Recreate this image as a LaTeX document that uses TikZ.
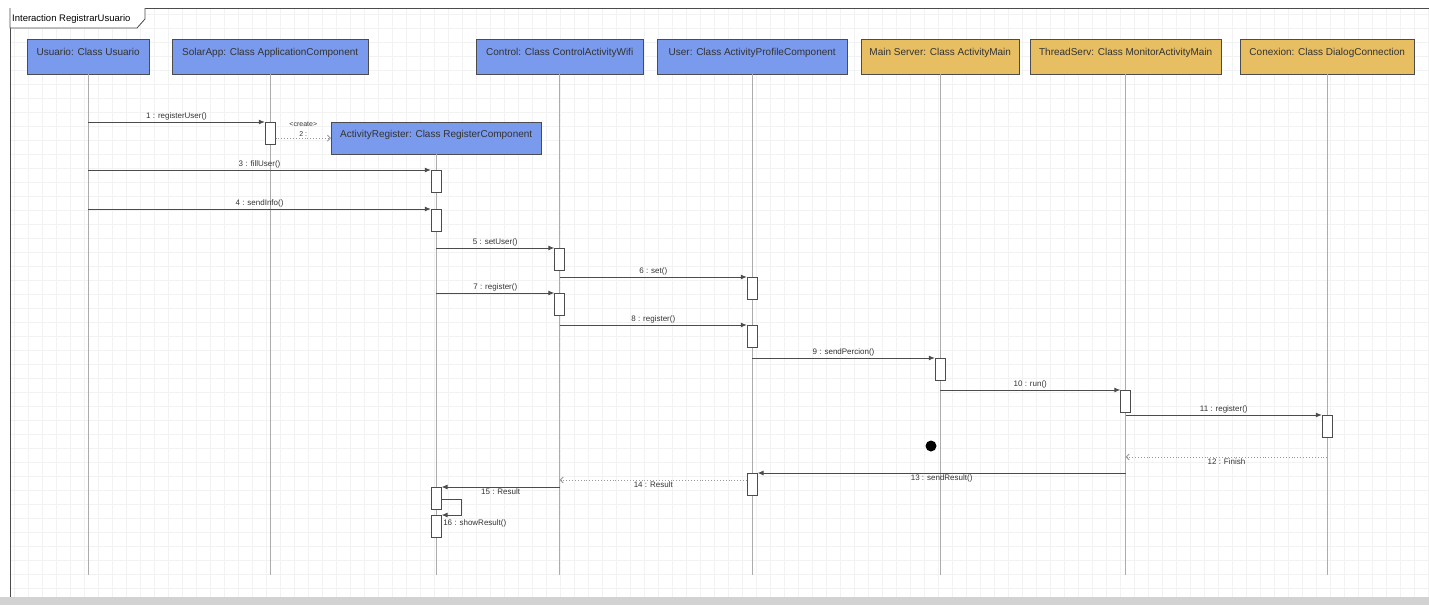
\documentclass[tikz,border=0pt]{standalone}
\usepackage{fontspec}
\setmainfont{Liberation Sans}
\usetikzlibrary{arrows.meta}
\definecolor{headBlue}{RGB}{122,154,238}
\definecolor{headGold}{RGB}{232,190,98}

\begin{document}
\begin{tikzpicture}[x=1pt,y=-1pt,
	head/.style={draw=gray!60!black, fill=headBlue, anchor=north west, minimum height=35pt, inner sep=0pt, text depth=10pt, font=\fontsize{10}{12}\selectfont, text=black!80},
	act/.style={draw=black!70, fill=white, minimum width=10pt, minimum height=22pt, inner sep=0pt, anchor=north, line width=0.7pt},
	life/.style={draw=gray!65, line width=0.5pt},
	msg/.style={draw=black!70, line width=0.9pt, -{Latex[length=6pt,width=5pt]}},
	reply/.style={draw=black!40, dotted, line width=0.9pt, -{Straight Barb[length=3pt,width=6pt]}},
	lbl/.style={font=\fontsize{8}{9}\selectfont, text=black!80, inner sep=1.5pt}]
	\useasboundingbox (0,0) rectangle (1429,605);
	\draw[black!5, step=14pt] (10,8) grid (1429,597);
	\fill[gray!35] (0,597) rectangle (1429,605);
	\draw[gray!60!black, line width=0.8pt] (10,597) -- (10,8) -- (1429,8);
	\draw[gray!60!black, line width=0.8pt, fill=white] (10,8) -- (10,28) -- (137,28) -- (145,19) -- (145,8);
	\node[font=\fontsize{9.5}{11}\selectfont, anchor=west, inner sep=0pt] (title) at (12,19) {Interaction RegistrarUsuario};

	% lifeline heads
	\node[head, minimum width=122pt] (usr) at (27,39) {Usuario: Class Usuario};
	\node[head, minimum width=196pt] (app) at (172,39) {SolarApp: Class ApplicationComponent};
	\node[head, minimum width=167pt] (ctl) at (476,39) {Control: Class ControlActivityWifi};
	\node[head, minimum width=190pt] (prof) at (657,39) {User: Class ActivityProfileComponent};
	\node[head, minimum width=158pt, fill=headGold] (srv) at (861,39) {Main Server: Class ActivityMain};
	\node[head, minimum width=191pt, fill=headGold] (thr) at (1030,39) {ThreadServ: Class MonitorActivityMain};
	\node[head, minimum width=174pt, fill=headGold] (con) at (1240,39) {Conexion: Class DialogConnection};
	\node[head, minimum width=210pt, minimum height=32pt, text depth=8pt] (reg) at (331,122) {ActivityRegister: Class RegisterComponent};

	\coordinate (bot) at (0,575);
	\foreach \n in {usr,app,ctl,prof,srv,thr,con,reg}
		\draw[life] (\n.south) -- (\n.south |- bot);

	% activations
	\node[act] (b1) at (app.south |- 0,122) {};
	\node[act] (b3) at (reg.south |- 0,170) {};
	\node[act] (b4) at (reg.south |- 0,209) {};
	\node[act] (b5) at (ctl.south |- 0,248) {};
	\node[act] (b6) at (prof.south |- 0,277) {};
	\node[act] (b7) at (ctl.south |- 0,293) {};
	\node[act] (b8) at (prof.south |- 0,325) {};
	\node[act] (b9) at (srv.south |- 0,358) {};
	\node[act] (b10) at (thr.south |- 0,390) {};
	\node[act] (b11) at (con.south |- 0,415) {};
	\node[act] (b13) at (prof.south |- 0,473) {};
	\node[act] (b15) at (reg.south |- 0,487) {};
	\node[act] (b16) at (reg.south |- 0,515) {};

	% messages
	\draw[msg] (usr.south |- b1.north) -- (b1.north west) node[lbl, midway, above] {1 : registerUser()};
	\draw[reply] (b1.east |- reg.west) -- (reg.west) node[lbl, midway, above, align=center, font=\fontsize{7}{10}\selectfont] {<create>\\2 :};
	\draw[msg] (usr.south |- b3.north) -- (b3.north west) node[lbl, midway, above] {3 : fillUser()};
	\draw[msg] (usr.south |- b4.north) -- (b4.north west) node[lbl, midway, above] {4 : sendInfo()};
	\draw[msg] (reg.south |- b5.north) -- (b5.north west) node[lbl, midway, above] {5 : setUser()};
	\draw[msg] (ctl.south |- b6.north) -- (b6.north west) node[lbl, midway, above] {6 : set()};
	\draw[msg] (reg.south |- b7.north) -- (b7.north west) node[lbl, midway, above] {7 : register()};
	\draw[msg] (ctl.south |- b8.north) -- (b8.north west) node[lbl, midway, above] {8 : register()};
	\draw[msg] (prof.south |- b9.north) -- (b9.north west) node[lbl, midway, above] {9 : sendPercion()};
	\draw[msg] (srv.south |- b10.north) -- (b10.north west) node[lbl, midway, above] {10 : run()};
	\draw[msg] (thr.south |- b11.north) -- (b11.north west) node[lbl, midway, above] {11 : register()};
	\draw[reply] (con.south |- 0,457) -- (thr.south |- 0,457) node[lbl, midway, below] {12 : Finish};
	\draw[msg] (thr.south |- b13.north) -- (b13.north east) node[lbl, midway, below] {13 : sendResult()};
	\draw[reply] (b13.west |- 0,480) -- (ctl.south |- 0,480) node[lbl, midway, below] {14 : Result};
	\draw[msg] (ctl.south |- b15.north) -- (b15.north east) node[lbl, midway, below] {15 : Result};
	\draw[msg] ([yshift=-12pt]b15.north east) -- ++(20,0) |- (b16.north east);
	\node[lbl, anchor=west] (l16) at ([yshift=-8pt]b16.north east) {16 : showResult()};

	\node[circle, fill=black, inner sep=0pt, minimum size=11pt] (stop) at (931,446) {};
\end{tikzpicture}
\end{document}
